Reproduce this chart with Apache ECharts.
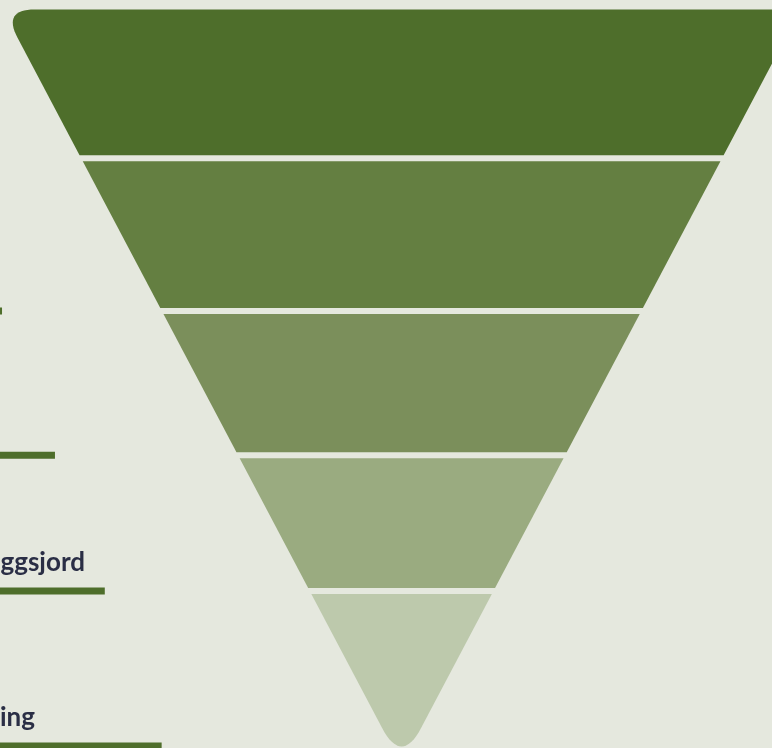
<!DOCTYPE html>
<html><head><meta charset="utf-8">
<script src="https://cdn.jsdelivr.net/npm/echarts@6/dist/echarts.min.js"></script>
<style>html,body{margin:0;padding:0;background:#e5e8de;overflow:hidden;width:772px;height:748px}#c{width:801px;height:766px;}</style>
</head><body><div id="c"></div>
<script>
// ---- data (top to bottom) ----
const categories = ['Jordbruksareal', 'Dyrka jord', 'Innmarksbeite', 'Tilleggsjord', 'Nydyrking'];
const values = [35.5, 28.4, 19.3, 11.5, 5.3];
const colors = ['#4e6e2b', '#647f41', '#7b8f5b', '#9aab80', '#bdc9ac'];

// layout constants (pixels)
const labelRight = [-90, -60, -8, 85, 35];
const GAP = 3, TOP_R = 32, TIP_R = 42;

const total = values.reduce((a, b) => a + b, 0);
const rows = values.map((v, i) => {
  const below = values.slice(i + 1).reduce((a, b) => a + b, 0);
  return [i, Math.sqrt((below + v) / total), Math.sqrt(below / total), v];
});

function roundedPoly(pts, radii) {
  const out = [];
  const n = pts.length;
  for (let i = 0; i < n; i++) {
    const P = pts[i], r = radii[i];
    if (!r) { out.push(P); continue; }
    const A = pts[(i - 1 + n) % n], B = pts[(i + 1) % n];
    const ua = [A[0] - P[0], A[1] - P[1]], ub = [B[0] - P[0], B[1] - P[1]];
    const la = Math.hypot(ua[0], ua[1]), lb = Math.hypot(ub[0], ub[1]);
    const p1 = [P[0] + ua[0] / la * r, P[1] + ua[1] / la * r];
    const p2 = [P[0] + ub[0] / lb * r, P[1] + ub[1] / lb * r];
    for (let k = 0; k <= 16; k++) {
      const t = k / 16, s = 1 - t;
      out.push([s * s * p1[0] + 2 * s * t * P[0] + t * t * p2[0],
                s * s * p1[1] + 2 * s * t * P[1] + t * t * p2[1]]);
    }
  }
  return out;
}

const chart = echarts.init(document.getElementById('c'));
chart.setOption({
  backgroundColor: '#e5e8de',
  animation: false,
  grid: { left: 2.6, right: 0.4, top: 9.5, bottom: 1 },
  xAxis: { type: 'value', min: -1, max: 1, show: false },
  yAxis: { type: 'value', min: 0, max: 1, show: false },
  series: [{
    type: 'custom',
    silent: true,
    clip: false,
    data: rows,
    renderItem: function (params, api) {
      const i = api.value(0);
      const last = values.length - 1;
      const tip = api.coord([0, 0]);
      const pxPerUnit = tip[1] - api.coord([0, 1])[1];
      const g = GAP / pxPerUnit;
      let dT = api.value(1), dB = api.value(2);
      if (i > 0) dT -= g;
      if (i < last) dB += g;
      const TL = api.coord([-dT, dT]), TR = api.coord([dT, dT]);
      let pts, radii;
      if (i === last) {
        pts = [TL, TR, tip]; radii = [0, 0, TIP_R];
      } else {
        const BR = api.coord([dB, dB]), BL = api.coord([-dB, dB]);
        pts = [TL, TR, BR, BL];
        radii = i === 0 ? [TOP_R, TOP_R, 0, 0] : [0, 0, 0, 0];
      }
      const poly = roundedPoly(pts, radii);
      const barY = i === last ? tip[1] - 19 : api.coord([0, api.value(2)])[1];
      const barEnd = 2 + (barY - 311) * 0.367;
      const barTop = barY - 3.5;
      return {
        type: 'group',
        children: [
          { type: 'polygon', shape: { points: poly }, style: { fill: colors[i] } },
          { type: 'rect', shape: { x: -400, y: barTop, width: barEnd + 400, height: 7 },
            style: { fill: '#4e6e2b' } },
          { type: 'text', style: {
              text: categories[i], x: labelRight[i], y: barTop - 17 - 8,
              align: 'right', verticalAlign: 'middle',
              font: 'bold 26px Lato', fill: '#2a2e45' } }
        ]
      };
    }
  }]
});
</script>
</body></html>
